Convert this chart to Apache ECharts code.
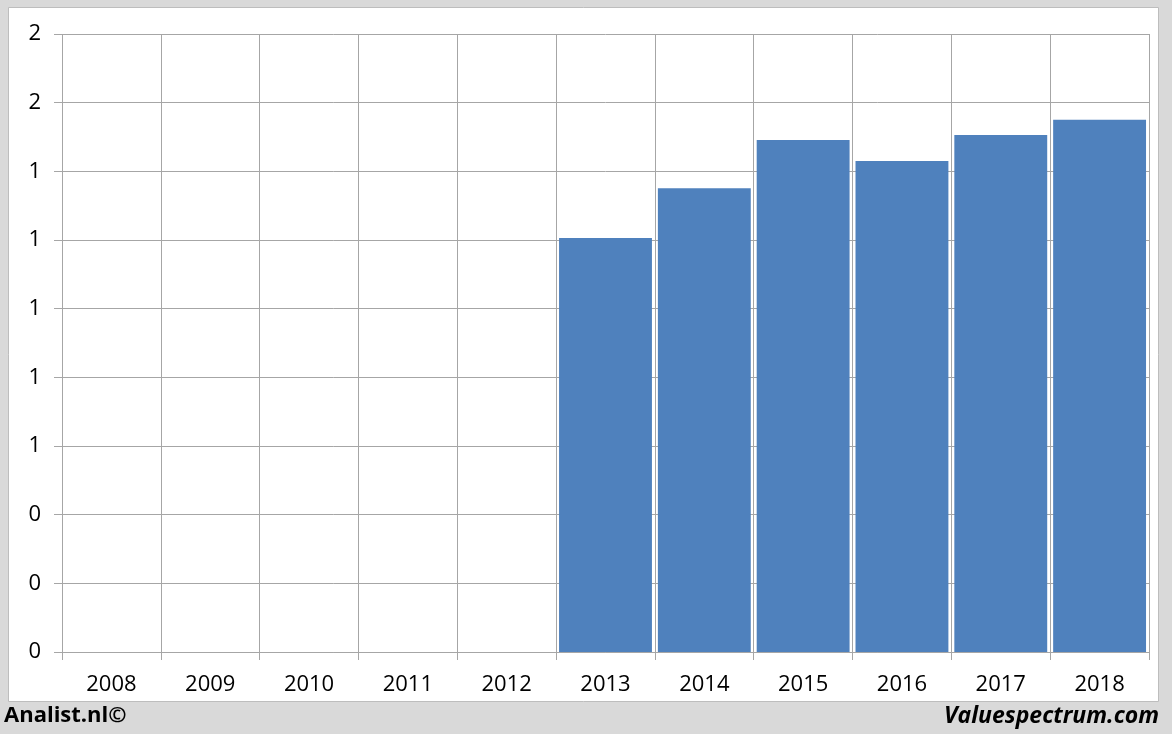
<!DOCTYPE html>
<html>
<head>
<meta charset="utf-8">
<script src="https://cdn.jsdelivr.net/npm/echarts@6/dist/echarts.min.js"></script>
<style>
html,body{margin:0;padding:0;background:#d9d9d9;}
#c{width:1172px;height:734px;}
</style>
</head>
<body>
<div id="c"></div>
<script>
var categories = ['2008','2009','2010','2011','2012','2013','2014','2015','2016','2017','2018'];
var values = [null,null,null,null,null,1.206,1.351,1.491,1.430,1.506,1.550];
var yMin = 0, yMax = 1.8, yInterval = 0.2;

var chart = echarts.init(document.getElementById('c'), null, {renderer:'canvas'});
var font = '"Open Sans", "Liberation Sans", sans-serif';
chart.setOption({
  backgroundColor: '#d9d9d9',
  animation: false,
  graphic: [
    {type:'rect', shape:{x:8.5,y:7.5,width:1150,height:694}, style:{fill:'#ffffff', stroke:'#bdbdbd', lineWidth:1}, z:-10},
    {type:'text', left:4, top:705, style:{text:'Analist.nl©', font:'bold 22px ' + font, fill:'#000'}},
    {type:'text', right:13, top:705, style:{text:'Valuespectrum.com', font:'italic bold 23px ' + font, fill:'#000'}}
  ],
  grid: {left:62, right:23, top:34, bottom:82, containLabel:false},
  xAxis: {
    type:'category',
    data: categories,
    boundaryGap:true,
    axisLine:{show:true, lineStyle:{color:'#a6a6a6', width:1}},
    axisTick:{show:true, length:8, alignWithLabel:false, lineStyle:{color:'#a6a6a6'}},
    splitLine:{show:true, lineStyle:{color:'#a6a6a6', width:1}},
    axisLabel:{color:'#000', fontSize:22, fontFamily:font, margin:22}
  },
  yAxis: {
    type:'value',
    min:yMin, max:yMax, interval:yInterval,
    axisLine:{show:false},
    axisTick:{show:true, length:8, lineStyle:{color:'#a6a6a6'}},
    splitLine:{show:true, lineStyle:{color:'#a6a6a6', width:1}},
    axisLabel:{color:'#000', fontSize:22, fontFamily:font, margin:21, formatter:function(v){return String(Math.round(v));}}
  },
  series: [{
    type:'bar',
    data: values,
    barCategoryGap:'6%',
    itemStyle:{color:'#4f81bd'}
  }]
});
</script>
</body>
</html>
